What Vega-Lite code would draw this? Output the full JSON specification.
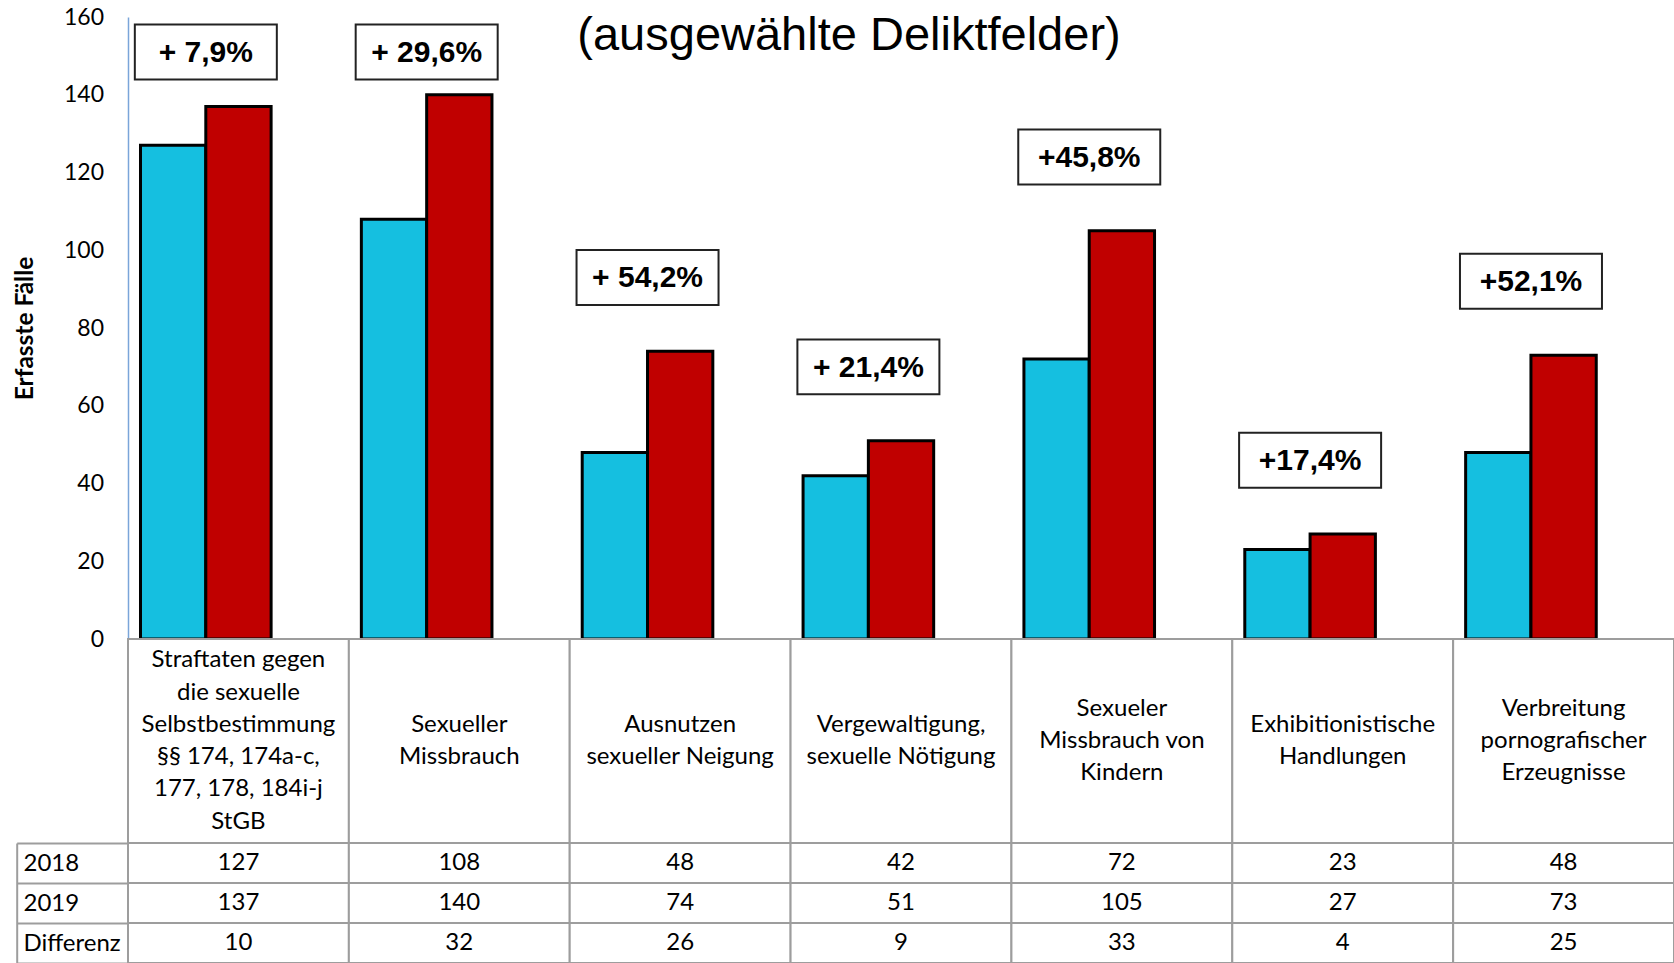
{
  "$schema": "https://vega.github.io/schema/vega-lite/v6.json",
  "autosize": {"type": "pad"},
  "padding": {"left": 12, "top": 6, "right": 0, "bottom": 0},
  "background": "white",
  "config": {"view": {"stroke": null}},
  "datasets": {
    "d": [
      {"Deliktfeld": "Straftaten gegen\ndie sexuelle\nSelbstbestimmung\n§§ 174, 174a-c,\n177, 178, 184i-j\nStGB", "2018": 127, "2019": 137, "Differenz": 10, "Veraenderung": "+ 7,9%"},
      {"Deliktfeld": "Sexueller\nMissbrauch", "2018": 108, "2019": 140, "Differenz": 32, "Veraenderung": "+ 29,6%"},
      {"Deliktfeld": "Ausnutzen\nsexueller Neigung", "2018": 48, "2019": 74, "Differenz": 26, "Veraenderung": "+ 54,2%"},
      {"Deliktfeld": "Vergewaltigung,\nsexuelle Nötigung", "2018": 42, "2019": 51, "Differenz": 9, "Veraenderung": "+ 21,4%"},
      {"Deliktfeld": "Sexueler\nMissbrauch von\nKindern", "2018": 72, "2019": 105, "Differenz": 33, "Veraenderung": "+45,8%"},
      {"Deliktfeld": "Exhibitionistische\nHandlungen", "2018": 23, "2019": 27, "Differenz": 4, "Veraenderung": "+17,4%"},
      {"Deliktfeld": "Verbreitung\npornografischer\nErzeugnisse", "2018": 48, "2019": 73, "Differenz": 25, "Veraenderung": "+52,1%"}
    ]
  },
  "vconcat": [
    {
      "width": 1546,
      "height": 622,
      "data": {"name": "d"},
      "title": {"text": "(ausgewählte Deliktfelder)", "font": "Liberation Sans", "fontSize": 47, "fontWeight": "normal", "color": "black", "anchor": "middle", "frame": "group", "dx": -52, "dy": 91, "offset": 0, "baseline": "alphabetic"},
      "encoding": {
        "x": {"field": "Deliktfeld", "type": "nominal", "sort": null, "scale": {"paddingInner": 0, "paddingOuter": 0},
              "axis": {"labels": false, "ticks": false, "title": null, "domainColor": "#9d9d9d", "domainWidth": 2}}
      },
      "layer": [
        {
          "transform": [{"fold": ["2018", "2019"], "as": ["Jahr", "Faelle"]}],
          "mark": {"type": "bar", "stroke": "black", "strokeWidth": 3},
          "encoding": {
            "xOffset": {"field": "Jahr", "type": "nominal", "scale": {"paddingInner": 0, "paddingOuter": 0.691, "align": 0.1385}},
            "y": {"field": "Faelle", "type": "quantitative", "scale": {"domain": [0, 160]},
                  "axis": {"values": [0, 20, 40, 60, 80, 100, 120, 140, 160], "ticks": false, "grid": false,
                           "domainColor": "#7AA5D9", "domainWidth": 1.5,
                           "labelFont": "Lato", "labelFontSize": 23, "labelColor": "black", "labelPadding": 24.5,
                           "title": "Erfasste Fälle", "titleFont": "Lato", "titleFontSize": 24.5, "titleFontWeight": "bold", "titleColor": "black", "titlePadding": 26}},
            "color": {"field": "Jahr", "type": "nominal", "scale": {"domain": ["2018", "2019"], "range": ["#15BFE0", "#C00000"]}, "legend": null}
          }
        },
        {
          "transform": [{"calculate": "min(max(datum['2018'], datum['2019']) + 19, 151)", "as": "Beschriftung"}],
          "mark": {"type": "point", "shape": "M-1.4592,-0.3873H0.5408V0.3873H-1.4592Z", "size": 20164, "filled": false, "fill": "white", "fillOpacity": 1, "stroke": "#222222", "strokeWidth": 2, "opacity": 1},
          "encoding": {"y": {"field": "Beschriftung", "type": "quantitative"}}
        },
        {
          "transform": [{"calculate": "min(max(datum['2018'], datum['2019']) + 19, 151)", "as": "Beschriftung"}],
          "mark": {"type": "text", "font": "Liberation Sans", "fontSize": 30, "fontWeight": "bold", "color": "black", "baseline": "middle", "dx": -32.6, "dy": 1},
          "encoding": {"y": {"field": "Beschriftung", "type": "quantitative"}, "text": {"field": "Veraenderung"}}
        }
      ]
    },
    {
      "width": 1546,
      "height": 204,
      "data": {"name": "d"},
      "encoding": {
        "x": {"field": "Deliktfeld", "type": "nominal", "sort": null, "scale": {"paddingInner": 0, "paddingOuter": 0}, "axis": null}
      },
      "layer": [
        {"mark": {"type": "rect", "fill": "white", "stroke": "#9d9d9d", "strokeWidth": 2}},
        {
          "transform": [
            {"calculate": "split(datum.Deliktfeld, '\\n')", "as": "Zeilen"},
            {"flatten": ["Zeilen"]},
            {"window": [{"op": "row_number", "as": "Nr"}], "groupby": ["Deliktfeld"]},
            {"joinaggregate": [{"op": "count", "as": "Anzahl"}], "groupby": ["Deliktfeld"]},
            {"calculate": "datum.Nr - (datum.Anzahl + 1) / 2", "as": "Lage"}
          ],
          "mark": {"type": "text", "font": "Lato", "fontSize": 24, "color": "black", "baseline": "middle"},
          "encoding": {
            "y": {"field": "Lage", "type": "quantitative", "scale": {"domain": [-3.158, 3.158], "reverse": true, "zero": false, "nice": false}, "axis": null},
            "text": {"field": "Zeilen"}
          }
        }
      ]
    },
    {
      "width": 1546,
      "height": 120,
      "data": {"name": "d"},
      "transform": [{"fold": ["2018", "2019", "Differenz"], "as": ["Zeile", "Wert"]}],
      "encoding": {
        "x": {"field": "Deliktfeld", "type": "nominal", "sort": null, "scale": {"paddingInner": 0, "paddingOuter": 0}, "axis": null},
        "y": {"field": "Zeile", "type": "nominal", "sort": ["2018", "2019", "Differenz"], "scale": {"paddingInner": 0, "paddingOuter": 0},
              "axis": {"title": null, "orient": "left", "offset": 111.3, "domain": true, "domainColor": "#9d9d9d", "domainWidth": 2,
                       "ticks": true, "tickBand": "extent", "tickSize": -111.3, "tickColor": "#9d9d9d", "tickWidth": 2,
                       "labelAlign": "left", "labelBaseline": "middle", "labelPadding": 105, "labelFont": "Lato", "labelFontSize": 24, "labelColor": "black"}}
      },
      "layer": [
        {"mark": {"type": "rect", "fill": "white", "stroke": "#9d9d9d", "strokeWidth": 2}},
        {"mark": {"type": "text", "font": "Lato", "fontSize": 24, "color": "black", "baseline": "middle"},
         "encoding": {"text": {"field": "Wert", "type": "quantitative"}}}
      ]
    }
  ],
  "spacing": 0,
  "bounds": "flush",
  "resolve": {"scale": {"x": "independent", "y": "independent"}}
}
